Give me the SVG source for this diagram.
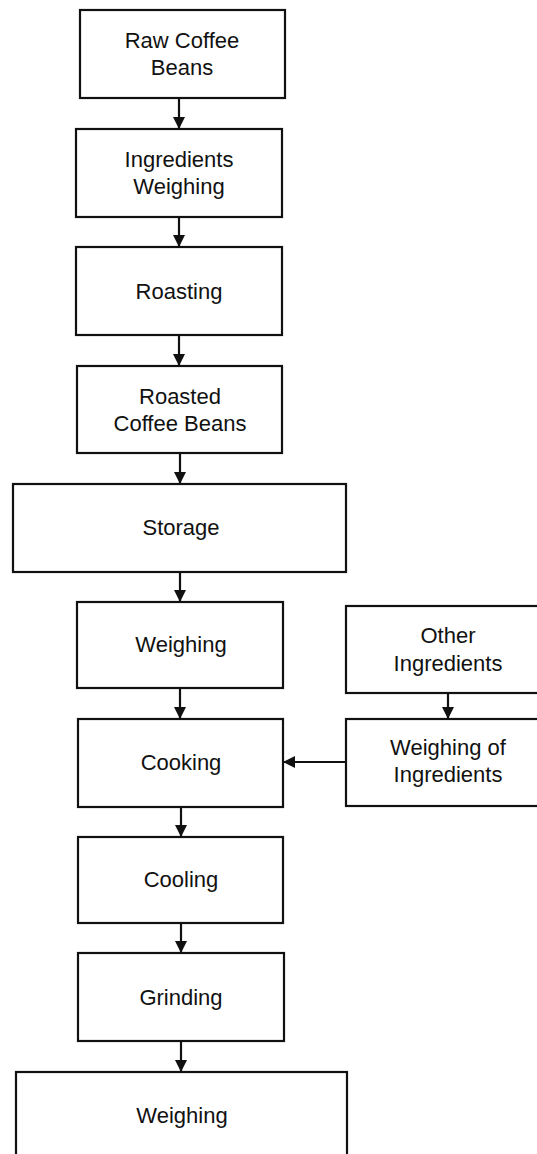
<svg xmlns="http://www.w3.org/2000/svg" width="537" height="1154" viewBox="0 0 537 1154">
  <style>
    .box { fill: #ffffff; stroke: #111111; stroke-width: 2.2; }
    .lbl { font-family: "Liberation Sans", Arial, sans-serif; font-size: 22px; fill: #111111; text-anchor: middle; }
    .edge { stroke: #111111; stroke-width: 2.2; fill: none; }
  </style>
  <defs>
    <marker id="arrow" viewBox="0 0 12 12" refX="12" refY="6" markerWidth="12" markerHeight="12" markerUnits="userSpaceOnUse" orient="auto">
      <path d="M0,0 L12,6 L0,12 Z" fill="#111111"/>
    </marker>
  </defs>
  <rect width="537" height="1154" fill="#ffffff"/>

  <g id="raw-coffee-beans">
    <rect class="box" x="80" y="10" width="205" height="88"/>
    <text class="lbl" x="182" y="48">Raw Coffee</text>
    <text class="lbl" x="182" y="75">Beans</text>
  </g>
  <g id="ingredients-weighing">
    <rect class="box" x="76" y="129" width="206" height="88"/>
    <text class="lbl" x="179" y="167">Ingredients</text>
    <text class="lbl" x="179" y="194">Weighing</text>
  </g>
  <g id="roasting">
    <rect class="box" x="76" y="247" width="206" height="88"/>
    <text class="lbl" x="179" y="299">Roasting</text>
  </g>
  <g id="roasted-coffee-beans">
    <rect class="box" x="77" y="366" width="205" height="87"/>
    <text class="lbl" x="180" y="404">Roasted</text>
    <text class="lbl" x="180" y="431">Coffee Beans</text>
  </g>
  <g id="storage">
    <rect class="box" x="13" y="484" width="333" height="88"/>
    <text class="lbl" x="181" y="535">Storage</text>
  </g>
  <g id="weighing-1">
    <rect class="box" x="77" y="602" width="206" height="86"/>
    <text class="lbl" x="181" y="652">Weighing</text>
  </g>
  <g id="other-ingredients">
    <rect class="box" x="346" y="606" width="210" height="87"/>
    <text class="lbl" x="448" y="643">Other</text>
    <text class="lbl" x="448" y="671">Ingredients</text>
  </g>
  <g id="cooking">
    <rect class="box" x="78" y="719" width="205" height="88"/>
    <text class="lbl" x="181" y="770">Cooking</text>
  </g>
  <g id="weighing-of-ingredients">
    <rect class="box" x="346" y="719" width="210" height="87"/>
    <text class="lbl" x="448" y="755">Weighing of</text>
    <text class="lbl" x="448" y="782">Ingredients</text>
  </g>
  <g id="cooling">
    <rect class="box" x="78" y="837" width="205" height="86"/>
    <text class="lbl" x="181" y="887">Cooling</text>
  </g>
  <g id="grinding">
    <rect class="box" x="78" y="953" width="206" height="88"/>
    <text class="lbl" x="181" y="1005">Grinding</text>
  </g>
  <g id="weighing-2">
    <rect class="box" x="16" y="1072" width="331" height="100"/>
    <text class="lbl" x="182" y="1123">Weighing</text>
  </g>

  <g id="connectors">
    <line class="edge" x1="179" y1="98" x2="179" y2="129" marker-end="url(#arrow)"/>
    <line class="edge" x1="179" y1="217" x2="179" y2="247" marker-end="url(#arrow)"/>
    <line class="edge" x1="179" y1="335" x2="179" y2="366" marker-end="url(#arrow)"/>
    <line class="edge" x1="180" y1="453" x2="180" y2="484" marker-end="url(#arrow)"/>
    <line class="edge" x1="180" y1="572" x2="180" y2="602" marker-end="url(#arrow)"/>
    <line class="edge" x1="180" y1="688" x2="180" y2="719" marker-end="url(#arrow)"/>
    <line class="edge" x1="448" y1="693" x2="448" y2="719" marker-end="url(#arrow)"/>
    <line class="edge" x1="346" y1="762" x2="283" y2="762" marker-end="url(#arrow)"/>
    <line class="edge" x1="181" y1="807" x2="181" y2="837" marker-end="url(#arrow)"/>
    <line class="edge" x1="181" y1="923" x2="181" y2="953" marker-end="url(#arrow)"/>
    <line class="edge" x1="181" y1="1041" x2="181" y2="1072" marker-end="url(#arrow)"/>
  </g>
</svg>
